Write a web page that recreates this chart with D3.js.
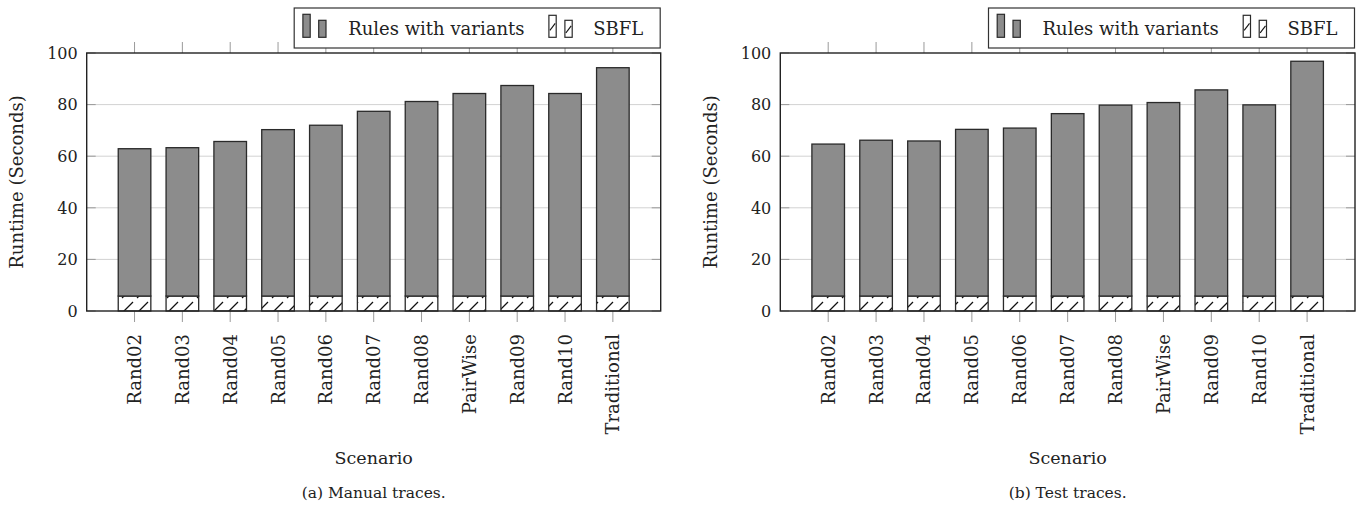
<!DOCTYPE html>
<html>
<head>
<meta charset="utf-8">
<script src="https://cdn.jsdelivr.net/npm/d3@7"></script>
<style>
  html, body { margin: 0; padding: 0; background: #fff; }
  svg { display: block; }
  text { font-family: "DejaVu Serif", "Liberation Serif", serif; fill: #222; }
</style>
</head>
<body>
<svg id="chart" width="1363" height="511"></svg>
<script>
// ---- data ----
const categories = ["Rand02","Rand03","Rand04","Rand05","Rand06","Rand07","Rand08","PairWise","Rand09","Rand10","Traditional"];
const manualSBFL  = [5.8,5.8,5.8,5.8,5.8,5.8,5.8,5.8,5.8,5.8,5.8];
const manualRules = [57.1,57.5,59.9,64.5,66.2,71.6,75.4,78.5,81.6,78.5,88.5];
const testSBFL    = [5.8,5.8,5.8,5.8,5.8,5.8,5.8,5.8,5.8,5.8,5.8];
const testRules   = [58.9,60.4,60.1,64.6,65.1,70.7,74.0,75.0,79.9,74.1,91.0];
const yTicks = [0,20,40,60,80,100];
const yGrid = [20,40,60,80];
const seriesNames = ["Rules with variants","SBFL"];
const captions = ["(a) Manual traces.","(b) Test traces."];
const xTitle = "Scenario";
const yTitle = "Runtime (Seconds)";

const svg = d3.select("#chart");
const defs = svg.append("defs");
const pat = defs.append("pattern").attr("id","hatch")
  .attr("patternUnits","userSpaceOnUse").attr("width",15).attr("height",15);
pat.append("rect").attr("width",15).attr("height",15).attr("fill","#fff");
pat.append("line").attr("x1",2).attr("y1",13).attr("x2",13).attr("y2",2)
  .attr("stroke","#111").attr("stroke-width",1.3);

const barFill = "#8c8c8c", barStroke = "#2a2a2a";
const FS = 18, NUMFS = 16;

function drawPanel(left, right, rules, sbfl, caption, ylabX) {
  const top = 53, bottom = 311;
  const g = svg.append("g");
  const x = d3.scalePoint().domain(categories).range([left, right]).padding(1);
  const y = d3.scaleLinear().domain([0,100]).range([bottom, top]);
  const bw = 32.6;

  // grid
  g.selectAll(".grid").data(yGrid).enter().append("line")
    .attr("x1", left).attr("x2", right)
    .attr("y1", d => y(d)).attr("y2", d => y(d))
    .attr("stroke","#d2d2d2").attr("stroke-width",1);
  // inner y ticks left & right
  yTicks.forEach(t => {
    g.append("line").attr("x1",left).attr("x2",left+9).attr("y1",y(t)).attr("y2",y(t))
      .attr("stroke","#9a9a9a").attr("stroke-width",1);
    g.append("line").attr("x1",right-9).attr("x2",right).attr("y1",y(t)).attr("y2",y(t))
      .attr("stroke","#9a9a9a").attr("stroke-width",1);
  });
  // x ticks (outside, bottom & top)
  categories.forEach(c => {
    g.append("line").attr("x1",x(c)).attr("x2",x(c)).attr("y1",bottom).attr("y2",bottom+11)
      .attr("stroke","#9a9a9a").attr("stroke-width",1);
    g.append("line").attr("x1",x(c)).attr("x2",x(c)).attr("y1",top-11).attr("y2",top)
      .attr("stroke","#9a9a9a").attr("stroke-width",1);
  });

  // bars: SBFL (bottom, hatched), rules stacked on top
  g.selectAll(".sbfl").data(categories).enter().append("rect")
    .attr("x", c => x(c) - bw/2).attr("width", bw)
    .attr("y", (c,i) => y(sbfl[i])).attr("height", (c,i) => y(0) - y(sbfl[i]))
    .attr("fill","url(#hatch)").attr("stroke",barStroke).attr("stroke-width",1.3);
  g.selectAll(".rules").data(categories).enter().append("rect")
    .attr("x", c => x(c) - bw/2).attr("width", bw)
    .attr("y", (c,i) => y(sbfl[i] + rules[i]))
    .attr("height", (c,i) => y(sbfl[i]) - y(sbfl[i] + rules[i]))
    .attr("fill",barFill).attr("stroke",barStroke).attr("stroke-width",1.3);

  // frame
  g.append("rect").attr("x",left).attr("y",top).attr("width",right-left).attr("height",bottom-top)
    .attr("fill","none").attr("stroke","#222").attr("stroke-width",1.4);

  // y tick labels
  g.selectAll(".yl").data(yTicks).enter().append("text")
    .attr("x", left - 9).attr("y", d => y(d)).attr("dy","0.36em")
    .attr("text-anchor","end").attr("font-size",NUMFS).text(d => d);
  // x tick labels rotated
  g.selectAll(".xl").data(categories).enter().append("text")
    .attr("transform", c => `translate(${x(c)},334) rotate(-90)`)
    .attr("dy","0.36em").attr("text-anchor","end").attr("font-size",FS).text(c => c);

  // axis titles
  g.append("text").attr("x",(left+right)/2).attr("y",464).attr("text-anchor","middle")
    .attr("font-size",17.5).text(xTitle);
  g.append("text").attr("transform",`translate(${ylabX},${(top+bottom)/2}) rotate(-90)`)
    .attr("text-anchor","middle").attr("font-size",FS).text(yTitle);
  g.append("text").attr("x",(left+right)/2).attr("y",498).attr("text-anchor","middle")
    .attr("font-size",15.5).text(caption);

  // legend
  const lx = right - 366.5, ly = 8, lh = 40;
  const lg = g.append("g");
  lg.append("rect").attr("x",lx).attr("y",ly).attr("width",366).attr("height",lh)
    .attr("fill","#fff").attr("stroke","#333").attr("stroke-width",1.2);
  const iconBottom = 37.3;
  const icons = [
    {dx: 8.7, h: 23, fill: barFill},
    {dx: 24.5, h: 17, fill: barFill},
    {dx: 254.7, h: 22, fill: "#fff", hatch: true},
    {dx: 270.7, h: 17, fill: "#fff", hatch: true}
  ];
  icons.forEach(ic => {
    lg.append("rect").attr("x",lx+ic.dx).attr("y",iconBottom-ic.h).attr("width",7.3).attr("height",ic.h)
      .attr("fill",ic.fill).attr("stroke",barStroke).attr("stroke-width",1.2);
    if (ic.hatch) {
      lg.append("line").attr("x1",lx+ic.dx+1).attr("y1",iconBottom-ic.h/2+4)
        .attr("x2",lx+ic.dx+6.3).attr("y2",iconBottom-ic.h/2-3)
        .attr("stroke","#111").attr("stroke-width",1.1);
    }
  });
  lg.append("text").attr("x",lx+54).attr("y",35).attr("font-size",FS).text(seriesNames[0]);
  lg.append("text").attr("x",lx+299).attr("y",35).attr("font-size",FS).text(seriesNames[1]);
}

drawPanel(86.7, 660.7, manualRules, manualSBFL, captions[0], 23);
drawPanel(780.3, 1355, testRules, testSBFL, captions[1], 717);
</script>
</body>
</html>
